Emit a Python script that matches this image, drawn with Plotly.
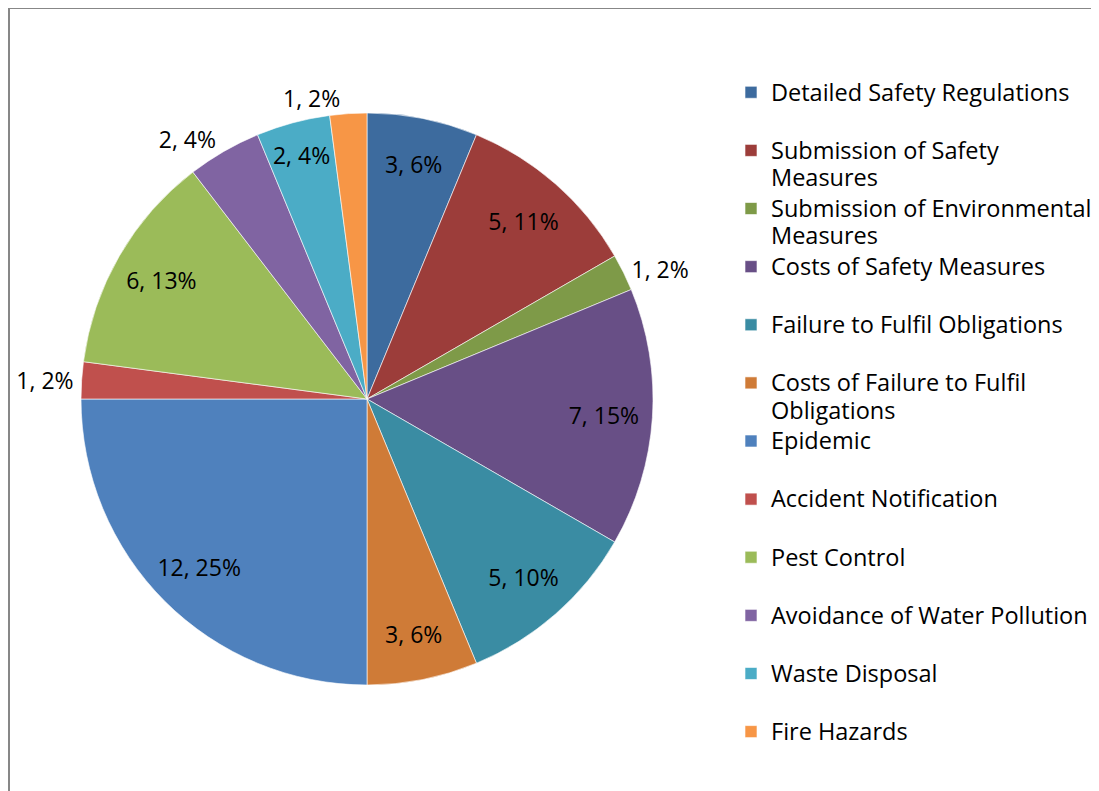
import plotly.graph_objects as go

# Categories in chart order (clockwise from 12 o'clock); "\n" marks the legend wrap
categories = [
    "Detailed Safety Regulations",
    "Submission of Safety\nMeasures",
    "Submission of Environmental\nMeasures",
    "Costs of Safety Measures",
    "Failure to Fulfil Obligations",
    "Costs of Failure to Fulfil\nObligations",
    "Epidemic",
    "Accident Notification",
    "Pest Control",
    "Avoidance of Water Pollution",
    "Waste Disposal",
    "Fire Hazards",
]
values = [3, 5, 1, 7, 5, 3, 12, 1, 6, 2, 2, 1]
percent_labels = ["6%", "11%", "2%", "15%", "10%", "6%", "25%", "2%", "13%", "4%", "4%", "2%"]
label_positions = ["inside", "inside", "outside", "inside", "inside", "inside",
                   "inside", "outside", "inside", "outside", "inside", "outside"]
colors = [
    "#3D6B9E", "#9C3D3A", "#7E9A48", "#684F86", "#3A8CA3", "#CF7B37",
    "#4F81BD", "#C0504D", "#9BBB59", "#8064A2", "#4BACC6", "#F79646",
]

W, H = 1099, 791
OFF = 8  # the page body margin shifts the figure by 8px
FONT = "Open Sans"


def px_x(x):
    return (x - OFF) / W


def px_y(y):
    return 1 - (y - OFF) / H


slice_text = [f"{v}, {p}" for v, p in zip(values, percent_labels)]

# every legend entry gets two lines so the items are evenly spaced like Excel
legend_names = []
for c in categories:
    lines = (c.split("\n") + ["&nbsp;"])[:2]
    legend_names.append("<br>".join(f'<span style="font-size:23.5px">{ln}</span>' for ln in lines))

pie_domain = dict(x=[px_x(81), px_x(653)], y=[px_y(685), px_y(113)])

fig = go.Figure()

# the coloured pie
fig.add_trace(go.Pie(
    labels=legend_names,
    values=values,
    textinfo="none",
    sort=False,
    direction="clockwise",
    rotation=0,
    marker=dict(colors=colors, line=dict(color="rgba(255,255,255,0.6)", width=1)),
    domain=pie_domain,
    hoverinfo="label+value+percent",
))

# transparent ring on top that carries the data labels out near the rim
fig.add_trace(go.Pie(
    labels=legend_names,
    values=values,
    text=slice_text,
    textinfo="text",
    textposition=label_positions,
    insidetextorientation="horizontal",
    textfont=dict(family=FONT, size=23, color="black"),
    hole=0.66,
    sort=False,
    direction="clockwise",
    rotation=0,
    marker=dict(colors=["rgba(0,0,0,0)"] * len(values), line=dict(width=0)),
    domain=pie_domain,
    showlegend=False,
    hoverinfo="skip",
))

# Excel-style chart border (only the left and top edges are visible in the crop)
fig.add_shape(type="line", xref="paper", yref="paper",
              x0=1 / W, x1=1 / W, y0=-0.05, y1=1 - 0.5 / H,
              line=dict(color="#878787", width=2))
fig.add_shape(type="line", xref="paper", yref="paper",
              x0=0, x1=1.05, y0=1 - 0.5 / H, y1=1 - 0.5 / H,
              line=dict(color="#878787", width=1))

fig.update_layout(
    width=W,
    height=H,
    margin=dict(l=0, r=0, t=0, b=0),
    paper_bgcolor="white",
    plot_bgcolor="white",
    uniformtext=dict(minsize=23, mode="show"),
    legend=dict(
        x=px_x(731), y=px_y(72), xanchor="left", yanchor="top",
        valign="top",
        font=dict(family=FONT, size=21.2, color="black"),
        bgcolor="rgba(0,0,0,0)",
    ),
)

fig.write_html("out.html")
